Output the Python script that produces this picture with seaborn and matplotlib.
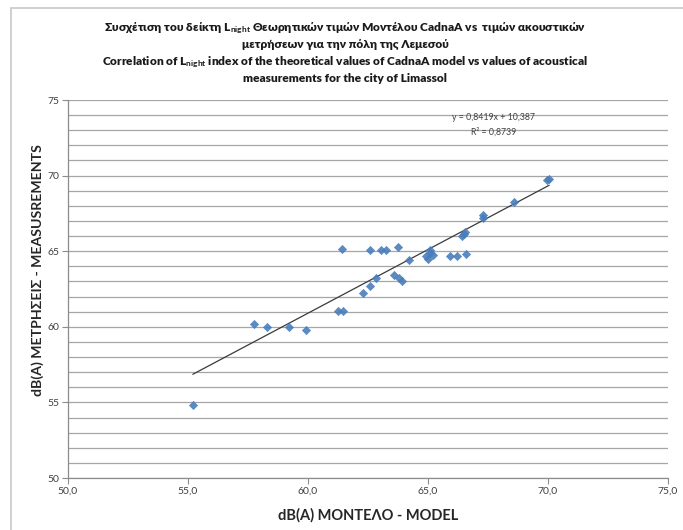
import numpy as np
import pandas as pd
import matplotlib
matplotlib.use("Agg")
import matplotlib.pyplot as plt
import seaborn as sns
from matplotlib.patches import Rectangle
from matplotlib.ticker import MultipleLocator, FixedLocator

# CadnaA model predictions vs measured Lnight levels, dB(A)
model = [55.2, 57.75, 58.3, 59.2, 59.9, 61.25, 61.45, 61.4, 62.3, 62.6,
         62.6, 62.85, 63.05, 63.25, 63.6, 63.75, 63.8, 63.9, 64.2, 64.9,
         65.0, 65.1, 65.2, 65.1, 65.9, 66.2, 66.6, 66.4, 66.5, 66.55,
         67.3, 67.3, 68.6, 69.95, 70.05]
measured = [54.8, 60.2, 60.0, 60.0, 59.8, 61.05, 61.05, 65.15, 62.25, 62.7,
            65.05, 63.2, 65.05, 65.05, 63.4, 65.25, 63.2, 63.05, 64.4, 64.65,
            64.5, 64.85, 64.75, 65.1, 64.65, 64.65, 64.8, 66.0, 66.15, 66.25,
            67.2, 67.4, 68.25, 69.7, 69.8]

# Linear trendline as reported on the chart
slope = 0.8419
intercept = 10.387
r_squared = 0.8739

x_ticks = [50, 55, 60, 65, 70, 75]
x_tick_labels = ["50,0", "55,0", "60,0", "65,0", "70,0", "75,0"]
y_ticks = [50, 55, 60, 65, 70, 75]

sns.set_theme(style="white")
plt.rcParams["font.family"] = ["Lato", "DejaVu Sans"]
plt.rcParams["mathtext.fontset"] = "custom"
plt.rcParams["mathtext.rm"] = "Lato:bold"
plt.rcParams["mathtext.it"] = "Lato:bold"
plt.rcParams["mathtext.bf"] = "Lato:bold"

W, H = 683, 530
fig = plt.figure(figsize=(W / 100, H / 100), dpi=100)
fig.patch.set_facecolor("white")

# outer chart frame
fig.patches.append(Rectangle((11 / W, -0.05), 1.2, (H - 8) / H + 0.05,
                             transform=fig.transFigure, fill=False,
                             edgecolor="#c8c8c8", linewidth=1.2, zorder=0))

ax = fig.add_axes([68 / W, (H - 478) / H, 600 / W, 378 / H])

df = pd.DataFrame({"model": model, "measured": measured})

# horizontal gridlines every 1 dB
ax.yaxis.set_major_locator(FixedLocator(y_ticks))
ax.yaxis.set_minor_locator(MultipleLocator(1))
ax.grid(True, axis="y", which="both", color="#a6a6a6", linewidth=0.9)
ax.grid(False, axis="x")
ax.set_axisbelow(True)

# trendline over the data range
xs = np.array([min(model), max(model)])
trend = pd.DataFrame({"x": xs, "y": slope * xs + intercept})
sns.lineplot(data=trend, x="x", y="y", ax=ax, color="#3a3a3a",
             linewidth=0.9, zorder=2)

sns.scatterplot(data=df, x="model", y="measured", ax=ax, marker="D",
                s=18, color="#4a7ebb", edgecolor="#4a7ebb", linewidth=0.4,
                alpha=0.9, zorder=3)

ax.set_xlim(50, 75)
ax.set_ylim(50, 75)
ax.set_xticks(x_ticks)
ax.set_xticklabels(x_tick_labels)
ax.set_yticks(y_ticks)
ax.set_yticklabels([str(v) for v in y_ticks])

for side in ("top", "right"):
    ax.spines[side].set_visible(False)
for side in ("left", "bottom"):
    ax.spines[side].set_color("#8c8c8c")
    ax.spines[side].set_linewidth(0.9)

ax.tick_params(axis="both", which="major", direction="out", length=4,
               width=0.8, color="#8c8c8c", labelsize=7.5,
               labelcolor="#404040", pad=2)
ax.tick_params(axis="y", which="minor", length=0)
ax.tick_params(axis="y", which="major", left=True)
ax.tick_params(axis="x", which="major", bottom=True)

ax.set_xlabel("dB(A) ΜΟΝΤΕΛΟ - MODEL", fontsize=10.5, fontweight="bold",
              color="#262626", labelpad=9)
ax.set_ylabel("dB(A) ΜΕΤΡΗΣΕΙΣ - MEASUSREMENTS", fontsize=10.2,
              fontweight="bold", color="#262626")
ax.yaxis.set_label_coords(-0.04, 0.55)

title_lines = [
    r"Συσχέτιση του δείκτη L$_{\mathrm{night}}$ Θεωρητικών τιμών Μοντέλου CadnaA vs  τιμών ακουστικών",
    "μετρήσεων για την πόλη της Λεμεσού",
    r"Correlation of L$_{\mathrm{night}}$ index of the theoretical values of CadnaA model vs values of acoustical",
    "measurements for the city of Limassol",
]
for i, line in enumerate(title_lines):
    fig.text(345 / W, 1 - (28 + 17 * i) / H, line, ha="center",
             va="center", fontsize=8.6, fontweight="heavy", color="#1a1a1a")

fig.text(494 / W, 1 - 117 / H,
         f"y = {slope:.4f}x + {intercept:.3f}".replace(".", ","),
         fontsize=6.3, color="#404040", ha="center", va="center")
fig.text(494 / W, 1 - 132 / H, f"R² = {r_squared:.4f}".replace(".", ","),
         fontsize=6.3, color="#404040", ha="center", va="center")

fig.savefig("out.png", dpi=100, facecolor="white")
